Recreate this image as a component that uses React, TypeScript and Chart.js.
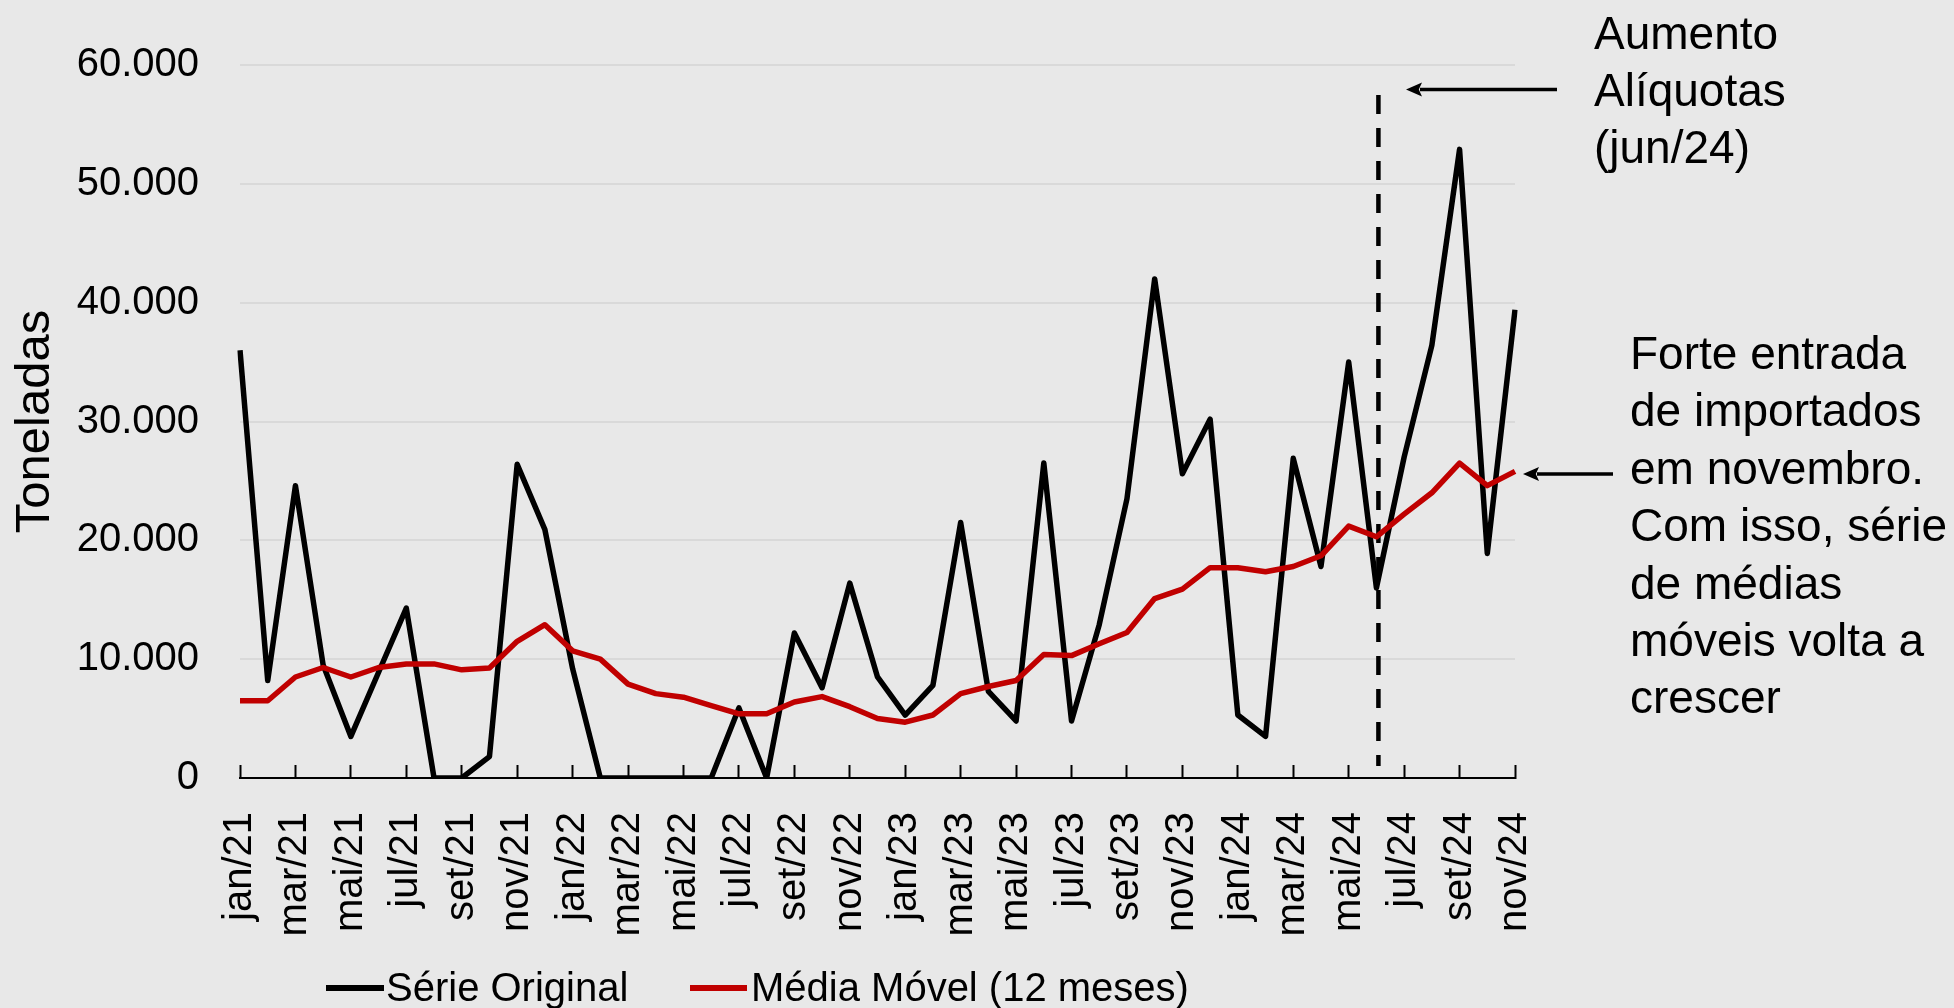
import React, { useEffect, useRef } from 'react';
import { Chart, registerables } from 'chart.js';

Chart.register(...registerables);

const months: string[] = [
  'jan/21', 'fev/21', 'mar/21', 'abr/21', 'mai/21', 'jun/21', 'jul/21', 'ago/21', 'set/21', 'out/21', 'nov/21', 'dez/21',
  'jan/22', 'fev/22', 'mar/22', 'abr/22', 'mai/22', 'jun/22', 'jul/22', 'ago/22', 'set/22', 'out/22', 'nov/22', 'dez/22',
  'jan/23', 'fev/23', 'mar/23', 'abr/23', 'mai/23', 'jun/23', 'jul/23', 'ago/23', 'set/23', 'out/23', 'nov/23', 'dez/23',
  'jan/24', 'fev/24', 'mar/24', 'abr/24', 'mai/24', 'jun/24', 'jul/24', 'ago/24', 'set/24', 'out/24', 'nov/24',
];

const serieOriginal: number[] = [
  36000, 8200, 24600, 9500, 3500, 8900, 14300, 0, 0, 1800, 26400, 20900,
  9200, 0, 0, 0, 0, 0, 5900, 0, 12200, 7600, 16400, 8500,
  5300, 7800, 21500, 7300, 4800, 26500, 4800, 12900, 23500, 42000, 25600, 30200,
  5300, 3500, 26900, 17800, 35000, 16000, 27000, 36400, 52900, 18900, 39400,
];

const mediaMovel: number[] = [
  6500, 6500, 8500, 9300, 8500, 9300, 9600, 9600, 9100, 9250, 11500, 12900,
  10700, 10000, 7900, 7100, 6800, 6100, 5400, 5400, 6400, 6850, 6000, 5000,
  4700, 5300, 7100, 7700, 8200, 10400, 10300, 11300, 12250, 15100, 15900, 17700,
  17700, 17350, 17800, 18700, 21200, 20300, 22200, 24000, 26500, 24600, 25800,
];

const seriesNames: string[] = ['Série Original', 'Média Móvel (12 meses)'];
const yAxisTitle = 'Toneladas';
const eventMonth = 'jun/24';
const note1: string[] = ['Aumento', 'Alíquotas', '(jun/24)'];
const note2: string[] = ['Forte entrada', 'de importados', 'em novembro.', 'Com isso, série', 'de médias', 'móveis volta a', 'crescer'];

const FONT = "'Liberation Sans', Arial, Helvetica, sans-serif";
const BG = '#E8E8E8';
const RED = '#C00000';

function fmt(v: number): string {
  return String(Math.round(v)).replace(/\B(?=(\d{3})+(?!\d))/g, '.');
}

function arrow(ctx: CanvasRenderingContext2D, x1: number, y: number, xTip: number) {
  const head = 16;
  const half = 7;
  ctx.save();
  ctx.strokeStyle = '#000';
  ctx.fillStyle = '#000';
  ctx.lineWidth = 3.5;
  ctx.beginPath();
  ctx.moveTo(x1, y);
  ctx.lineTo(xTip + head - 2, y);
  ctx.stroke();
  ctx.beginPath();
  ctx.moveTo(xTip, y);
  ctx.lineTo(xTip + head, y - half);
  ctx.lineTo(xTip + head * 0.8, y);
  ctx.lineTo(xTip + head, y + half);
  ctx.closePath();
  ctx.fill();
  ctx.restore();
}

export default function App() {
  const ref = useRef<HTMLCanvasElement>(null);

  useEffect(() => {
    if (!ref.current) return;

    const decor = {
      id: 'decor',
      beforeDraw(chart: any) {
        const { ctx, width, height } = chart;
        ctx.save();
        ctx.fillStyle = BG;
        ctx.fillRect(0, 0, width, height);
        ctx.restore();
      },
      beforeDatasetsDraw(chart: any) {
        const { ctx } = chart;
        const xs = chart.scales.x;
        const x = xs.getPixelForValue(months.indexOf(eventMonth)) + 2;
        ctx.save();
        ctx.strokeStyle = '#000';
        ctx.lineWidth = 4.5;
        ctx.setLineDash([19, 14]);
        ctx.beginPath();
        ctx.moveTo(x, 95);
        ctx.lineTo(x, 766);
        ctx.stroke();
        ctx.restore();
      },
      afterDraw(chart: any) {
        const { ctx } = chart;
        ctx.save();
        // legend
        ctx.lineCap = 'butt';
        ctx.lineWidth = 6;
        ctx.strokeStyle = '#000';
        ctx.beginPath();
        ctx.moveTo(326, 988);
        ctx.lineTo(384, 988);
        ctx.stroke();
        ctx.strokeStyle = RED;
        ctx.beginPath();
        ctx.moveTo(690, 988);
        ctx.lineTo(747, 988);
        ctx.stroke();
        ctx.fillStyle = '#000';
        ctx.font = `40px ${FONT}`;
        ctx.textBaseline = 'alphabetic';
        ctx.textAlign = 'left';
        ctx.fillText(seriesNames[0], 386, 1001);
        ctx.fillText(seriesNames[1], 751, 1001);
        // annotations
        ctx.font = `46px ${FONT}`;
        note1.forEach((t, i) => ctx.fillText(t, 1594, 48.5 + i * 57));
        note2.forEach((t, i) => ctx.fillText(t, 1630, 369 + i * 57.4));
        ctx.restore();
        arrow(ctx, 1557, 89.5, 1406);
        arrow(ctx, 1613, 474, 1523);
      },
    };

    const chart = new Chart(ref.current, {
      type: 'line',
      data: {
        labels: months,
        datasets: [
          {
            label: seriesNames[0],
            data: serieOriginal,
            borderColor: '#000',
            backgroundColor: '#000',
            borderWidth: 5.5,
            pointRadius: 0,
            tension: 0,
            borderJoinStyle: 'round',
            order: 1,
          },
          {
            label: seriesNames[1],
            data: mediaMovel,
            borderColor: RED,
            backgroundColor: RED,
            borderWidth: 5.5,
            pointRadius: 0,
            tension: 0,
            borderJoinStyle: 'round',
            order: 0,
          },
        ],
      },
      options: {
        animation: false,
        responsive: true,
        maintainAspectRatio: false,
        events: [],
        layout: { padding: { top: 64, right: 439, bottom: 0, left: 0 } },
        plugins: {
          legend: { display: false },
          tooltip: { enabled: false },
        },
        scales: {
          x: {
            type: 'category',
            offset: false,
            grid: {
              drawOnChartArea: false,
              drawTicks: true,
              tickLength: -13,
              tickWidth: 2,
              offset: false,
              tickColor: (c: any) => (c.index % 2 === 0 ? '#000' : 'rgba(0,0,0,0)'),
            },
            border: { display: true, color: '#000', width: 2 },
            ticks: {
              autoSkip: false,
              minRotation: 90,
              maxRotation: 90,
              padding: 47,
              color: '#000',
              font: { family: FONT, size: 40 },
              callback: (_v: any, i: number) => (i % 2 === 0 ? months[i] : ''),
            },
            afterFit: (s: any) => {
              s.height = 230;
            },
          },
          y: {
            min: 0,
            max: 60000,
            grid: { color: '#D9D9D9', lineWidth: 2, drawTicks: false },
            border: { display: false },
            ticks: {
              stepSize: 10000,
              padding: 41,
              color: '#000',
              font: { family: FONT, size: 40 },
              callback: (v: any) => fmt(Number(v)),
            },
            title: {
              display: true,
              text: yAxisTitle,
              color: '#000',
              font: { family: FONT, size: 49 },
              padding: { top: 5.6, bottom: 0 },
            },
            afterFit: (s: any) => {
              s.width = 240;
            },
          },
        },
      },
      plugins: [decor],
    });

    return () => chart.destroy();
  }, []);

  return (
    <div style={{ position: 'fixed', left: 0, top: 0, width: '1954px', height: '1008px', background: BG }}>
      <canvas ref={ref} />
    </div>
  );
}
